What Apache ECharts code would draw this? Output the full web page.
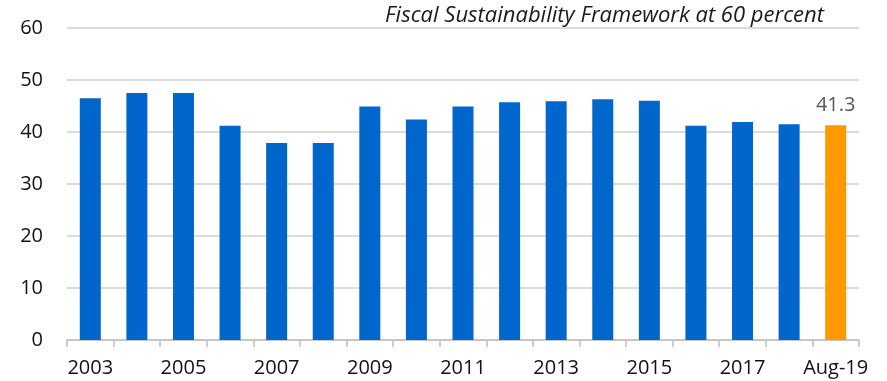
<!DOCTYPE html>
<html>
<head>
<meta charset="utf-8">
<script src="https://cdn.jsdelivr.net/npm/echarts@6/dist/echarts.min.js"></script>
<style>
  html, body { margin: 0; padding: 0; background: #ffffff; }
  #chart { width: 887px; height: 381px; }
</style>
</head>
<body>
<div id="chart"></div>
<script>
// Debt ratio by year, with the latest monthly reading highlighted
const categories = ['2003', '2004', '2005', '2006', '2007', '2008', '2009', '2010',
  '2011', '2012', '2013', '2014', '2015', '2016', '2017', '2018', 'Aug-19'];
const values = [46.5, 47.5, 47.5, 41.2, 37.9, 37.9, 44.9, 42.4,
  44.9, 45.7, 45.9, 46.3, 46.0, 41.2, 41.9, 41.5, 41.3];
const yTicks = [0, 10, 20, 30, 40, 50, 60];
const noteText = 'Fiscal Sustainability Framework at 60 percent';

const BLUE = '#0066CC';
const ORANGE = '#FF9900';
const FONT = '"Open Sans", "Noto Sans", sans-serif';
const lastIdx = values.length - 1;

const seriesData = values.map((v, i) => ({
  value: v,
  itemStyle: { color: i === lastIdx ? ORANGE : BLUE },
  label: i === lastIdx ? {
    show: true, position: 'top', distance: 10,
    color: '#595959', fontSize: 20, fontFamily: FONT
  } : { show: false }
}));

const chart = echarts.init(document.getElementById('chart'), null, { renderer: 'canvas' });
chart.setOption({
  animation: false,
  backgroundColor: '#ffffff',
  title: {
    text: noteText,
    right: 58, top: 0,
    textStyle: {
      fontFamily: FONT, fontStyle: 'italic', fontWeight: 'normal',
      fontSize: 22, color: '#1a1a1a'
    }
  },
  grid: { left: 67, right: 28, top: 28, bottom: 41, containLabel: false },
  xAxis: {
    type: 'category',
    data: categories,
    boundaryGap: true,
    axisLine: { show: true, lineStyle: { color: '#bfbfbf', width: 1.5 } },
    axisTick: { show: true, alignWithLabel: false, interval: 0, length: 7,
      lineStyle: { color: '#bfbfbf', width: 1.5 } },
    axisLabel: {
      interval: 1, color: '#111111', fontSize: 20, fontFamily: FONT, margin: 18
    }
  },
  yAxis: {
    type: 'value',
    min: yTicks[0], max: yTicks[yTicks.length - 1], interval: 10,
    axisLine: { show: false },
    axisTick: { show: false },
    axisLabel: { color: '#111111', fontSize: 20, fontFamily: FONT, margin: 24 },
    splitLine: { show: true, lineStyle: { color: '#dcdcdc', width: 2 } }
  },
  series: [{
    type: 'bar',
    data: seriesData,
    barWidth: 21
  }]
});
</script>
</body>
</html>
